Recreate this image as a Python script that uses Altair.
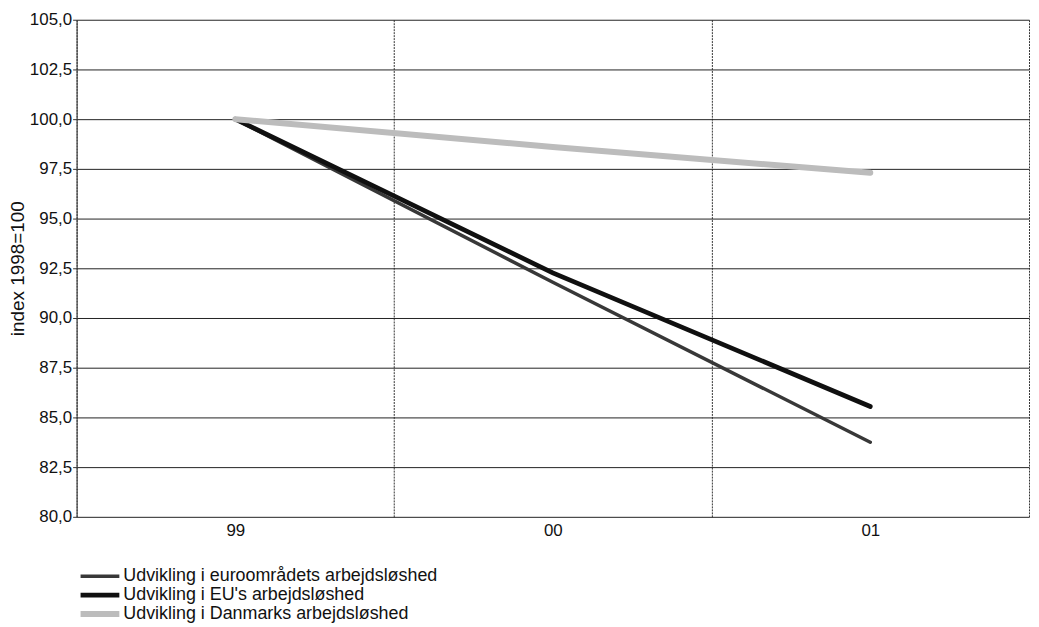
import altair as alt
import pandas as pd

years = ["99", "00", "01"]
series_names = [
    "Udvikling i euroområdets arbejdsløshed",
    "Udvikling i EU's arbejdsløshed",
    "Udvikling i Danmarks arbejdsløshed",
]
euro = [100.0, 91.8, 83.75]
eu = [100.0, 92.27, 85.55]
dk = [100.0, 98.6, 97.3]
y_ticks = [80.0, 82.5, 85.0, 87.5, 90.0, 92.5, 95.0, 97.5, 100.0, 102.5, 105.0]

rows = []
for name, vals in zip(series_names, [euro, eu, dk]):
    for yr, v in zip(years, vals):
        rows.append({"year": yr, "value": v, "serie": name})
df = pd.DataFrame(rows)

FONT = "Liberation Sans"

legend_spec = alt.Legend(
    title=None,
    orient="none",
    legendX=1,
    legendY=551,
    direction="vertical",
    symbolType="stroke",
    symbolSize=1521,
    clipHeight=17.5,
    rowPadding=0,
    labelFontSize=18,
    labelFont=FONT,
    labelColor="#111111",
    labelLimit=0,
    labelOffset=1,
)

chart = alt.Chart(df).mark_line(strokeCap="round").encode(
    x=alt.X(
        "year:N",
        sort=years,
        scale=alt.Scale(type="band", paddingInner=0, paddingOuter=0),
        axis=alt.Axis(
            title=None,
            tickBand="extent",
            grid=True,
            gridColor="#333333",
            gridDash=[2, 1],
            gridWidth=1,
            ticks=False,
            domain=False,
            labelAngle=0,
            labelPadding=6,
            labelFontSize=17,
            labelColor="#111111",
            labelFont=FONT,
        ),
    ),
    y=alt.Y(
        "value:Q",
        scale=alt.Scale(domain=[80, 105], nice=False, zero=False),
        axis=alt.Axis(
            title="index 1998=100",
            titleFontSize=19,
            titleFontWeight="normal",
            titleFont=FONT,
            titleColor="#111111",
            titlePadding=2,
            values=y_ticks,
            labelExpr="replace(format(datum.value, '.1f'), '.', ',')",
            labelFontSize=17,
            labelFont=FONT,
            labelColor="#111111",
            tickSize=4,
            tickColor="#333333",
            labelPadding=1,
            grid=True,
            gridColor="#222222",
            gridWidth=1,
            domainColor="#333333",
        ),
    ),
    color=alt.Color(
        "serie:N",
        sort=series_names,
        scale=alt.Scale(domain=series_names, range=["#383838", "#101010", "#bcbcbc"]),
        legend=legend_spec,
    ),
    strokeWidth=alt.StrokeWidth(
        "serie:N",
        sort=series_names,
        scale=alt.Scale(domain=series_names, range=[3.5, 6, 3]),
        legend=legend_spec,
    ),
).properties(
    width=958,
    height=500,
    autosize=alt.AutoSizeParams(type="none"),
    padding={"left": 69, "top": 10, "right": 2, "bottom": 108},
).configure_view(stroke=None)

chart.save("out.html", embed_options={"renderer": "svg", "actions": False})
